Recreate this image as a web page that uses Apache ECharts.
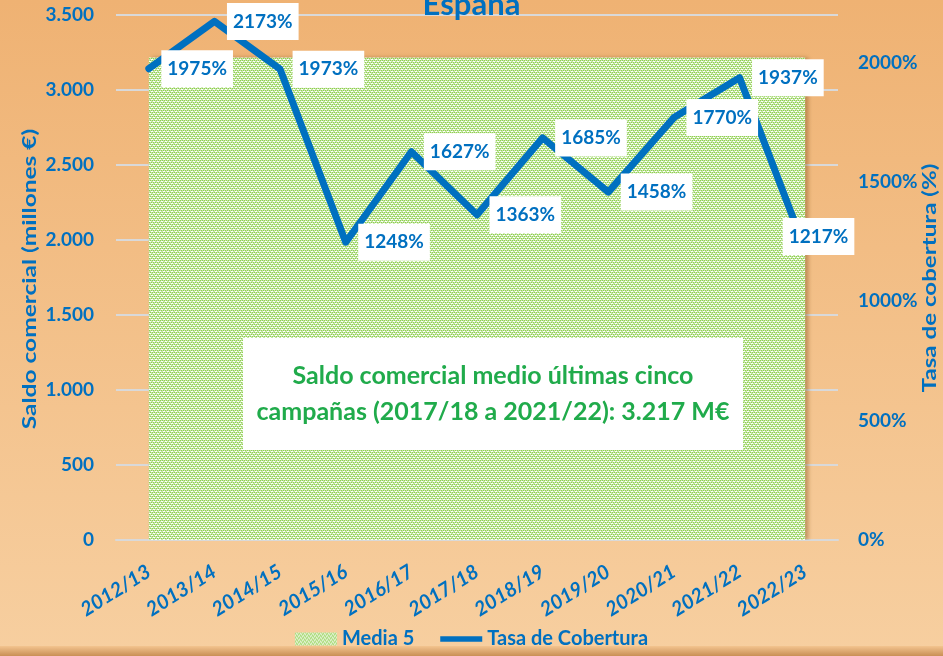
<!DOCTYPE html>
<html>
<head>
<meta charset="utf-8">
<style>
  html, body { margin: 0; padding: 0; }
  #chart { width: 943px; height: 656px; }
</style>
<script src="https://cdn.jsdelivr.net/npm/echarts@6/dist/echarts.min.js"></script>
</head>
<body>
<div id="chart"></div>
<script>
// campañas
var campanas = ['2012/13', '2013/14', '2014/15', '2015/16', '2016/17', '2017/18',
                '2018/19', '2019/20', '2020/21', '2021/22', '2022/23'];
// tasa de cobertura (%)
var tasaCobertura = [1975, 2173, 1973, 1248, 1627, 1363, 1685, 1458, 1770, 1937, 1217];
// saldo comercial medio últimas cinco campañas (M€)
var media5 = [3217, 3217, 3217, 3217, 3217, 3217, 3217, 3217, 3217, 3217, 3217];
var saldoTicks = [0, 500, 1000, 1500, 2000, 2500, 3000, 3500];

var azul = '#0070c0';
var fuente = 'Lato, "Open Sans", sans-serif';

// trama verde de la media
var trama = document.createElement('canvas');
trama.width = 4; trama.height = 4;
var ctx = trama.getContext('2d');
ctx.fillStyle = '#c6e7a5';
ctx.fillRect(0, 0, 4, 4);
ctx.fillStyle = '#8fcf52';
ctx.fillRect(0, 0, 1, 1); ctx.fillRect(2, 0, 1, 1);
ctx.fillRect(1, 2, 1, 1); ctx.fillRect(3, 2, 1, 1);
ctx.fillStyle = '#ffffff';
ctx.fillRect(1, 1, 1, 1); ctx.fillRect(3, 3, 1, 1);
ctx.fillRect(0, 3, 1, 1); ctx.fillRect(2, 1, 1, 1);

var myChart = echarts.init(document.getElementById('chart'));

var option = {
  animation: false,
  backgroundColor: {
    type: 'linear', x: 0, y: 0, x2: 0, y2: 1,
    colorStops: [
      { offset: 0, color: '#efb273' },
      { offset: 1, color: '#f7cfa0' }
    ]
  },
  textStyle: { fontFamily: fuente },
  title: {
    text: 'España',
    left: 'center',
    top: -16,
    textStyle: { color: azul, fontSize: 31, fontWeight: 'bold', fontFamily: fuente }
  },
  grid: { left: 116, right: 105, top: 15, bottom: 116, outerBoundsMode: 'none' },
  legend: {
    bottom: 2,
    left: 'center',
    itemGap: 26,
    itemWidth: 42,
    itemHeight: 13,
    textStyle: { color: azul, fontSize: 20, fontWeight: 'bold', fontFamily: fuente },
    data: [
      { name: 'Media 5', icon: 'rect', itemStyle: { color: { image: trama, repeat: 'repeat' } } },
      { name: 'Tasa de Cobertura', icon: 'path://M0,0 H45 V6 H0 Z' }
    ]
  },
  xAxis: {
    type: 'category',
    data: campanas,
    boundaryGap: true,
    axisLine: { lineStyle: { color: '#d9d9d9', width: 2 } },
    axisTick: { show: false },
    axisLabel: {
      rotate: 32,
      margin: 30,
      interval: 0,
      color: azul,
      fontSize: 20,
      fontWeight: 'bold',
      fontStyle: 'italic',
      fontFamily: fuente
    }
  },
  yAxis: [
    {
      type: 'value',
      min: saldoTicks[0],
      max: saldoTicks[saldoTicks.length - 1],
      interval: 500,
      axisLine: { show: false },
      axisTick: { show: false },
      splitLine: { lineStyle: { color: '#d9d9d9', width: 2 } },
      axisLabel: {
        margin: 22,
        color: azul,
        fontSize: 19,
        fontWeight: 'bold',
        fontFamily: fuente,
        formatter: function (v) {
          return v.toString().replace(/\B(?=(\d{3})+(?!\d))/g, '.');
        }
      }
    },
    {
      type: 'value',
      position: 'right',
      min: 0,
      max: 2200,
      interval: 500,
      axisLine: { show: false },
      axisTick: { show: false },
      splitLine: { show: false },
      axisLabel: {
        margin: 20,
        showMaxLabel: false,
        color: azul,
        fontSize: 19,
        fontWeight: 'bold',
        fontFamily: fuente,
        formatter: function (v) { return v % 500 === 0 ? v + '%' : ''; }
      }
    }
  ],
  series: [
    {
      name: 'Media 5',
      type: 'line',
      yAxisIndex: 0,
      data: media5,
      symbol: 'none',
      color: '#b3df89',
      lineStyle: { width: 0 },
      areaStyle: {
        color: { image: trama, repeat: 'repeat' },
        opacity: 1,
        shadowColor: 'rgba(120,70,20,0.45)',
        shadowBlur: 4,
        shadowOffsetX: 3
      },
      z: 1
    },
    {
      name: 'Tasa de Cobertura',
      type: 'line',
      yAxisIndex: 1,
      data: tasaCobertura.map(function (v, i) {
        var d = { value: v };
        if (i === tasaCobertura.length - 1) {
          d.label = { offset: [-35, -13] };
        }
        return d;
      }),
      symbol: 'circle',
      symbolSize: 1,
      showSymbol: true,
      color: azul,
      lineStyle: { color: azul, width: 7, cap: 'round', join: 'round' },
      label: {
        show: true,
        position: 'right',
        distance: 12,
        formatter: '{c}%',
        color: azul,
        fontSize: 19,
        fontWeight: 'bold',
        fontFamily: fuente,
        backgroundColor: '#ffffff',
        padding: [9, 6, 9, 6]
      },
      z: 5
    }
  ],
  graphic: [
    {
      type: 'rect',
      left: 0,
      top: 646,
      z: 100,
      shape: { width: 943, height: 10 },
      style: {
        fill: {
          type: 'linear', x: 0, y: 0, x2: 0, y2: 1,
          colorStops: [
            { offset: 0, color: '#f3c48f' },
            { offset: 1, color: '#c98f55' }
          ]
        }
      },
      silent: true
    },
    {
      type: 'rect',
      z: 100,
      shape: { x: 243, y: 338, width: 500, height: 112 },
      style: { fill: '#ffffff' }
    },
    {
      type: 'text',
      z: 101,
      x: 493,
      y: 394,
      style: {
        text: 'Saldo comercial medio últimas cinco\ncampañas (2017/18 a 2021/22): 3.217 M€',
        align: 'center',
        verticalAlign: 'middle',
        fill: '#20ab4b',
        font: 'bold 25px ' + fuente,
        lineHeight: 36
      }
    },
    {
      // título eje izquierdo
      type: 'text',
      z: 100,
      x: 30,
      y: 279,
      rotation: Math.PI / 2,
      scaleX: 1.29,
      style: {
        text: 'Saldo comercial (millones €)',
        align: 'center',
        verticalAlign: 'middle',
        fill: azul,
        font: 'bold 19px ' + fuente
      }
    },
    {
      // título eje derecho
      type: 'text',
      z: 100,
      x: 930,
      y: 278,
      rotation: Math.PI / 2,
      scaleX: 1.27,
      style: {
        text: 'Tasa de cobertura (%)',
        align: 'center',
        verticalAlign: 'middle',
        fill: azul,
        font: 'bold 19px ' + fuente
      }
    }
  ]
};

myChart.setOption(option);
</script>
</body>
</html>
